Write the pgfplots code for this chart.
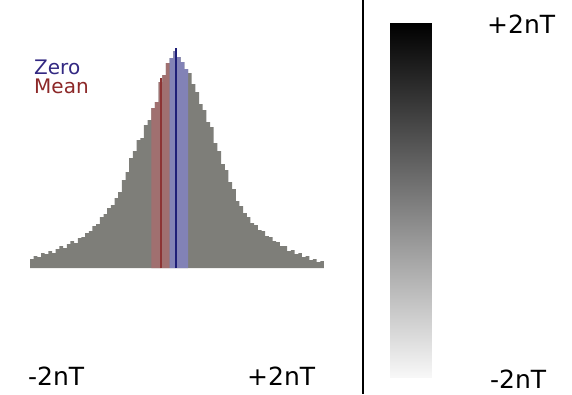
\documentclass[border=0pt]{standalone}
\usepackage{fontspec}
\setmainfont{DejaVu Sans}
\usepackage{pgfplots}
\pgfplotsset{compat=1.18}

\definecolor{histgray}{RGB}{126,126,121}
\definecolor{redtint}{RGB}{160,112,112}
\definecolor{bluetint}{RGB}{130,130,182}
\definecolor{meanred}{RGB}{140,52,52}
\definecolor{zeroblue}{RGB}{30,30,120}
\definecolor{zerotext}{RGB}{50,40,130}
\definecolor{meantext}{RGB}{140,40,40}

\begin{document}
\begin{tikzpicture}
\useasboundingbox (0,0) rectangle (572pt,-394pt);

% histogram of field values
\begin{axis}[
    at={(30pt,-268pt)}, anchor=south west,
    scale only axis, width=294pt, height=220pt,
    xmin=-2, xmax=2, ymin=0, ymax=220,
    hide axis, clip=false,
]
\addplot[ybar interval, fill=histgray, draw=none] coordinates {
(-2.00,9)(-1.95,12)(-1.90,11)(-1.85,15)(-1.80,14)(-1.75,17)(-1.70,15)(-1.65,19)
(-1.60,22)(-1.55,20)(-1.50,24)(-1.45,27)(-1.40,25)(-1.35,30)(-1.30,31)(-1.25,35)
(-1.20,37)(-1.15,42)(-1.10,44)(-1.05,51)(-1.00,54)(-0.95,60)(-0.90,63)(-0.85,70)
(-0.80,76)(-0.75,88)(-0.70,96)(-0.65,110)(-0.60,117)(-0.55,128)(-0.50,130)(-0.45,143)
(-0.40,148)(-0.35,160)(-0.30,166)(-0.25,186)(-0.20,193)(-0.15,205)(-0.10,210)(-0.05,217)
(0.00,211)(0.05,206)(0.10,199)(0.15,195)(0.20,184)(0.25,176)(0.30,164)(0.35,158)
(0.40,146)(0.45,141)(0.50,125)(0.55,117)(0.60,104)(0.65,98)(0.70,86)(0.75,79)
(0.80,67)(0.85,62)(0.90,55)(0.95,51)(1.00,45)(1.05,43)(1.10,38)(1.15,37)
(1.20,32)(1.25,31)(1.30,27)(1.35,26)(1.40,22)(1.45,22)(1.50,17)(1.55,18)
(1.60,14)(1.65,15)(1.70,11)(1.75,12)(1.80,8)(1.85,9)(1.90,6)(1.95,7)(2.00,7)
};
\addplot[ybar interval, fill=redtint, draw=none] coordinates {
(-0.35,160)(-0.30,166)(-0.25,186)(-0.20,193)(-0.15,205)(-0.10,205)
};
\addplot[ybar interval, fill=bluetint, draw=none] coordinates {
(-0.10,210)(-0.05,217)(0.00,211)(0.05,206)(0.10,199)(0.15,199)
};
% mean and zero markers
\addplot[meanred, line width=2pt] coordinates {(-0.22,0)(-0.22,190)};
\addplot[zeroblue, line width=2pt] coordinates {(-0.01,0)(-0.01,220)};
\end{axis}

% grey scale bar
\begin{axis}[
    at={(390pt,-377pt)}, anchor=south west,
    scale only axis, width=41pt, height=354pt,
    xmin=0, xmax=1, ymin=-2, ymax=2,
    hide axis, view={0}{90},
    colormap={bw}{gray(0cm)=(0.97); gray(1cm)=(0)},
]
\addplot3[surf, shader=interp, mesh/rows=2, point meta=z] coordinates {
(0,-2,-2)(1,-2,-2)
(0,2,2)(1,2,2)
};
\end{axis}

\draw[line width=1.5pt] (363pt,0) -- (363pt,-394pt);

\node[anchor=base west, inner sep=0, text=zerotext, font=\fontsize{20}{20}\selectfont] at (34pt,-74pt) {Zero};
\node[anchor=base west, inner sep=0, text=meantext, font=\fontsize{20}{20}\selectfont] at (34pt,-93pt) {Mean};

\node[anchor=base west, inner sep=0, font=\fontsize{25}{25}\selectfont] at (28pt,-385pt) {-2nT};
\node[anchor=base west, inner sep=0, font=\fontsize{25}{25}\selectfont] at (247pt,-385pt) {+2nT};
\node[anchor=base west, inner sep=0, font=\fontsize{25}{25}\selectfont] at (487pt,-33pt) {+2nT};
\node[anchor=base west, inner sep=0, font=\fontsize{25}{25}\selectfont] at (490pt,-388pt) {-2nT};
\end{tikzpicture}
\end{document}
